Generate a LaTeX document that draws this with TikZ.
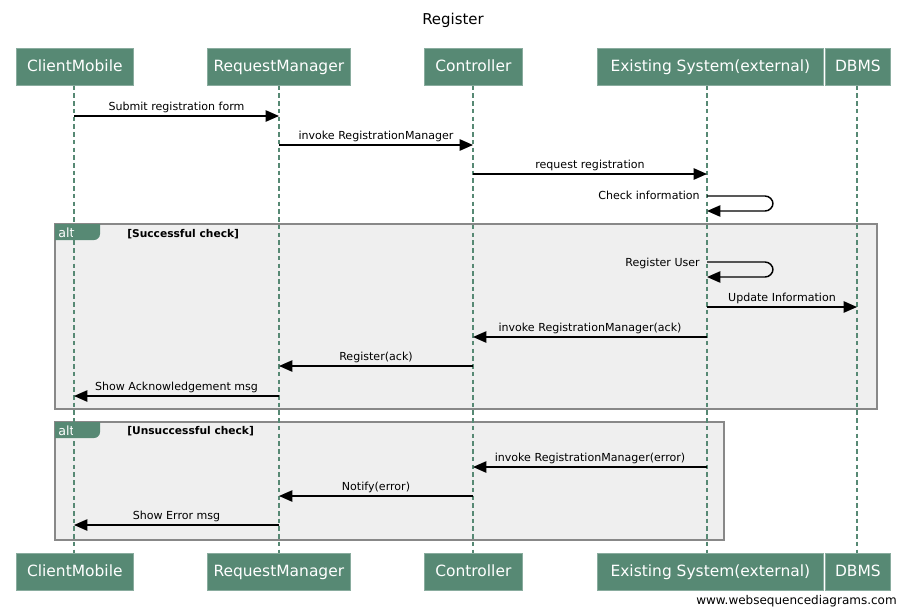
\documentclass[tikz,border=0pt]{standalone}
\usepackage{fontspec}
\setmainfont{DejaVu Sans}
\usetikzlibrary{arrows.meta}
\definecolor{actorgreen}{RGB}{87,137,116}
\definecolor{framefill}{RGB}{239,239,239}
\definecolor{framedraw}{RGB}{136,136,136}
\begin{document}
\begin{tikzpicture}[x=0.75pt,y=-0.75pt,
  actor/.style={fill=actorgreen,draw=actorgreen!70!white,line width=0.5pt,text=white,
    font=\fontsize{11.6}{13}\selectfont,inner sep=0pt,text height=9.4pt,text depth=2pt,
    minimum height=27.75pt,anchor=north west},
  lifeline/.style={draw=actorgreen,line width=1.9pt,dash pattern=on 3.4pt off 2.4pt},
  msgline/.style={draw=black,line width=1.1pt,-{Triangle[length=10pt,width=8.5pt]}},
  msglabel/.style={font=\fontsize{8.3}{9}\selectfont,inner sep=0pt,anchor=base},
  selflabel/.style={font=\fontsize{8.3}{9}\selectfont,inner sep=0pt,anchor=base east},
  altframe/.style={fill=framefill,draw=framedraw,line width=1.1pt},
  alttab/.style={fill=actorgreen,draw=none},
  tabtext/.style={text=white,font=\fontsize{9.5}{10}\selectfont,inner sep=0pt,anchor=base west},
  guard/.style={font=\bfseries\fontsize{8}{9}\selectfont,inner sep=0pt,anchor=base west}]
\useasboundingbox (0,0) rectangle (906,614);
\fill[white] (0,0) rectangle (906,614);

% title
\node[font=\fontsize{11.2}{13}\selectfont] (title) at (453,20) {Register};

% alt frames (background)
\draw[altframe] (55,224) rectangle (877,409);
\draw[altframe] (55,422) rectangle (724,540);
\fill[alttab] (55,224) -- (100,224) -- (100,234) arc[start angle=0,end angle=90,radius=6] -- (55,240) -- cycle;
\fill[alttab] (55,422) -- (100,422) -- (100,432) arc[start angle=0,end angle=90,radius=6] -- (55,438) -- cycle;
\node[tabtext] (alt1) at (58,237) {alt};
\node[tabtext] (alt2) at (58,435) {alt};
\node[guard] (g1) at (127,237) {[Successful check]};
\node[guard] (g2) at (127,434) {[Unsuccessful check]};

% participants, top
\node[actor,minimum width=87.75pt] (cmT) at (16,48) {ClientMobile};
\node[actor,minimum width=107.25pt] (rmT) at (207,48) {RequestManager};
\node[actor,minimum width=73.5pt] (ctT) at (424,48) {Controller};
\node[actor,minimum width=169.5pt] (esT) at (597,48) {Existing System(external)};
\node[actor,minimum width=48.75pt] (dbT) at (825,48) {DBMS};
% participants, bottom
\node[actor,minimum width=87.75pt] (cmB) at (16,553) {ClientMobile};
\node[actor,minimum width=107.25pt] (rmB) at (207,553) {RequestManager};
\node[actor,minimum width=73.5pt] (ctB) at (424,553) {Controller};
\node[actor,minimum width=169.5pt] (esB) at (597,553) {Existing System(external)};
\node[actor,minimum width=48.75pt] (dbB) at (825,553) {DBMS};

% lifelines
\coordinate (cmX) at (74,0);
\coordinate (rmX) at (279,0);
\coordinate (ctX) at (473,0);
\coordinate (esX) at (707,0);
\coordinate (dbX) at (857,0);
\draw[lifeline] (cmX |- cmT.south) -- (cmX |- cmB.north);
\draw[lifeline] (rmX |- rmT.south) -- (rmX |- rmB.north);
\draw[lifeline] (ctX |- ctT.south) -- (ctX |- ctB.north);
\draw[lifeline] (esX |- esT.south) -- (esX |- esB.north);
\draw[lifeline] (dbX |- dbT.south) -- (dbX |- dbB.north);

% message rows
\coordinate (r1) at (0,116);
\coordinate (r2) at (0,145);
\coordinate (r3) at (0,174);
\coordinate (r5) at (0,307);
\coordinate (r6) at (0,337);
\coordinate (r7) at (0,366);
\coordinate (r8) at (0,396);
\coordinate (r9) at (0,467);
\coordinate (r10) at (0,496);
\coordinate (r11) at (0,525);

\draw[msgline] (cmX |- r1) -- node[msglabel,yshift=4pt] {Submit registration form} (rmX |- r1);
\draw[msgline] (rmX |- r2) -- node[msglabel,yshift=4pt] {invoke RegistrationManager} (ctX |- r2);
\draw[msgline] (ctX |- r3) -- node[msglabel,yshift=4pt] {request registration} (esX |- r3);

% self messages
\coordinate (s1a) at (707,196);
\coordinate (s1b) at (707,211);
\draw[msgline,rounded corners=6pt] (s1a) -- ++(66,0) -- ++(0,15) -- (s1b);
\node[selflabel] (s1l) at (700,199) {Check information};
\coordinate (s2a) at (707,262);
\coordinate (s2b) at (707,277);
\draw[msgline,rounded corners=6pt] (s2a) -- ++(66,0) -- ++(0,15) -- (s2b);
\node[selflabel] (s2l) at (700,266) {Register User};

\draw[msgline] (esX |- r5) -- node[msglabel,yshift=4pt] {Update Information} (dbX |- r5);
\draw[msgline] (esX |- r6) -- node[msglabel,yshift=4pt] {invoke RegistrationManager(ack)} (ctX |- r6);
\draw[msgline] (ctX |- r7) -- node[msglabel,yshift=4pt] {Register(ack)} (rmX |- r7);
\draw[msgline] (rmX |- r8) -- node[msglabel,yshift=4pt] {Show Acknowledgement msg} (cmX |- r8);
\draw[msgline] (esX |- r9) -- node[msglabel,yshift=4pt] {invoke RegistrationManager(error)} (ctX |- r9);
\draw[msgline] (ctX |- r10) -- node[msglabel,yshift=4pt] {Notify(error)} (rmX |- r10);
\draw[msgline] (rmX |- r11) -- node[msglabel,yshift=4pt] {Show Error msg} (cmX |- r11);

% footer
\node[font=\fontsize{9}{10}\selectfont,inner sep=0pt,anchor=base east] (wsd) at (897,604) {www.websequencediagrams.com};
\end{tikzpicture}
\end{document}
